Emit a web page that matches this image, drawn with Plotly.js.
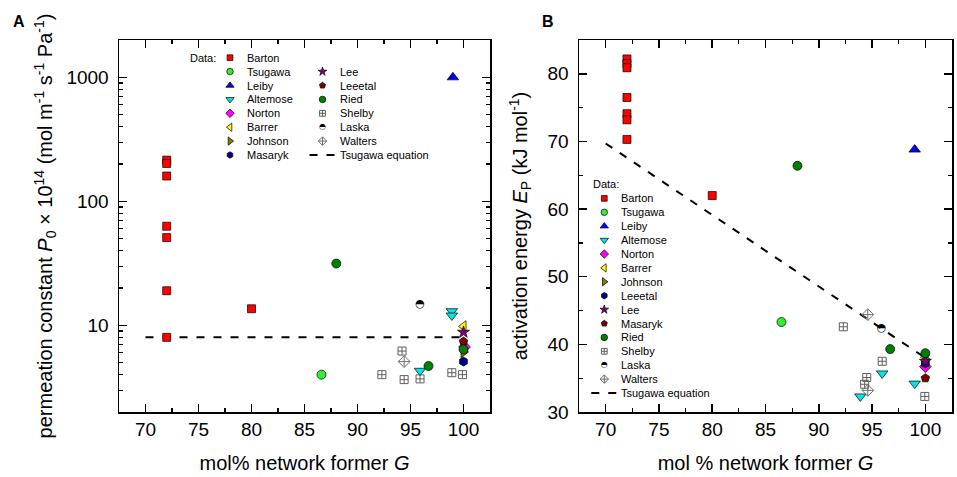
<!DOCTYPE html>
<html><head><meta charset="utf-8">
<script src="https://cdn.plot.ly/plotly-3.0.1.min.js"></script>
<style>html,body{margin:0;padding:0;background:#fff}</style>
</head><body><div id="chart" style="width:957px;height:477px"></div>
<script>
// ---------------- Panel A data: permeation constant P0 x 10^14 (log scale) ----------------
const A_barton_x   = [72, 72, 72, 72, 72, 72, 72, 80];
const A_barton_y   = [215, 202, 160, 63, 51, 19, 8, 13.6];
const A_tsugawa_x  = [86.6];            const A_tsugawa_y  = [4.0];
const A_leiby_x    = [99];              const A_leiby_y    = [1000];
const A_altemose_x = [98.9, 98.9, 95.9]; const A_altemose_y = [13, 12, 4.3];
const A_norton_x   = [100.1];           const A_norton_y   = [6.7];
const A_barrer_x   = [100];             const A_barrer_y   = [9.8];
const A_johnson_x  = [100];             const A_johnson_y  = [6.1];
const A_masaryk_x  = [100];             const A_masaryk_y  = [5.1];
const A_lee_x      = [100];             const A_lee_y      = [8.8];
const A_leeetal_x  = [100];             const A_leeetal_y  = [7.4];
const A_ried_x     = [88, 96.7, 100];   const A_ried_y     = [31.5, 4.7, 6.4];
const A_shelby_x   = [92.3, 94.2, 94.4, 95.9, 98.9, 99.9];
const A_shelby_y   = [4.0, 6.2, 3.65, 3.7, 4.15, 4.0];
const A_laska_x    = [95.9];            const A_laska_y    = [14.7];
const A_walters_x  = [94.4];            const A_walters_y  = [5.1];
const A_eq_x       = [70, 100];         const A_eq_y       = [8, 8];

// ---------------- Panel B data: activation energy Ep (kJ/mol) ----------------
const B_barton_x   = [72, 72, 72, 72, 72, 72, 72, 80];
const B_barton_y   = [82.2, 81.5, 80.9, 76.5, 74.1, 73.2, 70.3, 62.0];
const B_tsugawa_x  = [86.5];            const B_tsugawa_y  = [43.3];
const B_leiby_x    = [99];              const B_leiby_y    = [68.8];
const B_altemose_x = [93.9, 95.95, 99]; const B_altemose_y = [32.3, 35.7, 34.2];
const B_norton_x   = [100];             const B_norton_y   = [36.7];
const B_barrer_x   = [100];             const B_barrer_y   = [38.1];
const B_johnson_x  = [100];             const B_johnson_y  = [37.8];
const B_leeetal_x  = [100];             const B_leeetal_y  = [37.2];
const B_lee_x      = [100];             const B_lee_y      = [37.5];
const B_masaryk_x  = [100];             const B_masaryk_y  = [35.0];
const B_ried_x     = [88, 96.7, 100];   const B_ried_y     = [66.4, 39.3, 38.7];
const B_shelby_x   = [92.3, 94.3, 94.5, 95.95, 99.95];
const B_shelby_y   = [42.6, 34.1, 35.1, 37.5, 32.3];
const B_laska_x    = [95.9];            const B_laska_y    = [42.4];
const B_walters_x  = [94.6, 94.6];      const B_walters_y  = [44.4, 33.2];
const B_eq_x       = [70, 100];         const B_eq_y       = [69.7, 38.0];

// ---------------- tick labels ----------------
const xTickVals = [70, 75, 80, 85, 90, 95, 100];
const yTickValsA = [10, 100, 1000];
const yTickTextA = ['10', '100', '1000'];
const yTickValsB = [30, 40, 50, 60, 70, 80];

// ---------------- styles ----------------
const STY = {
  red:     {symbol: 'square',            color: '#ff0000', size: 8},
  lime:    {symbol: 'circle',            color: '#33ee33', size: 9},
  blue:    {symbol: 'triangle-up',       color: '#0000ff', size: 10},
  cyan:    {symbol: 'triangle-down',     color: '#00e5e5', size: 10},
  magenta: {symbol: 'diamond',           color: '#ff00ff', size: 9},
  yellow:  {symbol: 'triangle-left',     color: '#ffff00', size: 10},
  olive:   {symbol: 'triangle-right',    color: '#808000', size: 10},
  navy:    {symbol: 'hexagon',           color: '#000080', size: 9},
  purple:  {symbol: 'star',              color: '#800080', size: 9},
  darkred: {symbol: 'pentagon',          color: '#800000', size: 9},
  green:   {symbol: 'circle',            color: '#008000', size: 9},
  gray:    {symbol: 'square-cross-open', color: '#606060', size: 8, open: true},
  half:    {glyph: '\u25D3', size: 11},
  walters: {symbol: 'diamond-cross-open',color: '#707070', size: 9, open: true},
  dash:    {line: true}
};

const seriesA = [
  {name: 'Barton',   x: A_barton_x,   y: A_barton_y,   s: 'red'},
  {name: 'Tsugawa',  x: A_tsugawa_x,  y: A_tsugawa_y,  s: 'lime'},
  {name: 'Leiby',    x: A_leiby_x,    y: A_leiby_y,    s: 'blue'},
  {name: 'Altemose', x: A_altemose_x, y: A_altemose_y, s: 'cyan'},
  {name: 'Norton',   x: A_norton_x,   y: A_norton_y,   s: 'magenta'},
  {name: 'Barrer',   x: A_barrer_x,   y: A_barrer_y,   s: 'yellow'},
  {name: 'Johnson',  x: A_johnson_x,  y: A_johnson_y,  s: 'olive'},
  {name: 'Masaryk',  x: A_masaryk_x,  y: A_masaryk_y,  s: 'navy'},
  {name: 'Lee',      x: A_lee_x,      y: A_lee_y,      s: 'purple'},
  {name: 'Leeetal',  x: A_leeetal_x,  y: A_leeetal_y,  s: 'darkred'},
  {name: 'Ried',     x: A_ried_x,     y: A_ried_y,     s: 'green'},
  {name: 'Shelby',   x: A_shelby_x,   y: A_shelby_y,   s: 'gray'},
  {name: 'Laska',    x: A_laska_x,    y: A_laska_y,    s: 'half'},
  {name: 'Walters',  x: A_walters_x,  y: A_walters_y,  s: 'walters'},
  {name: 'Tsugawa equation', x: A_eq_x, y: A_eq_y,     s: 'dash'}
];
const seriesB = [
  {name: 'Barton',   x: B_barton_x,   y: B_barton_y,   s: 'red'},
  {name: 'Tsugawa',  x: B_tsugawa_x,  y: B_tsugawa_y,  s: 'lime'},
  {name: 'Leiby',    x: B_leiby_x,    y: B_leiby_y,    s: 'blue'},
  {name: 'Altemose', x: B_altemose_x, y: B_altemose_y, s: 'cyan'},
  {name: 'Norton',   x: B_norton_x,   y: B_norton_y,   s: 'magenta'},
  {name: 'Barrer',   x: B_barrer_x,   y: B_barrer_y,   s: 'yellow'},
  {name: 'Johnson',  x: B_johnson_x,  y: B_johnson_y,  s: 'olive'},
  {name: 'Leeetal',  x: B_leeetal_x,  y: B_leeetal_y,  s: 'navy'},
  {name: 'Lee',      x: B_lee_x,      y: B_lee_y,      s: 'purple'},
  {name: 'Masaryk',  x: B_masaryk_x,  y: B_masaryk_y,  s: 'darkred'},
  {name: 'Ried',     x: B_ried_x,     y: B_ried_y,     s: 'green'},
  {name: 'Shelby',   x: B_shelby_x,   y: B_shelby_y,   s: 'gray'},
  {name: 'Laska',    x: B_laska_x,    y: B_laska_y,    s: 'half'},
  {name: 'Walters',  x: B_walters_x,  y: B_walters_y,  s: 'walters'},
  {name: 'Tsugawa equation', x: B_eq_x, y: B_eq_y,     s: 'dash'}
];

const DASH = {color: '#000', width: 2, dash: '8px,9px'};

function makeTrace(x, y, st, xa, ya, scale) {
  scale = scale || 1;
  const base = {x: x, y: y, xaxis: xa, yaxis: ya, showlegend: false, hoverinfo: 'skip', cliponaxis: false};
  if (st.line) return Object.assign(base, {mode: 'lines', line: DASH});
  if (st.glyph) return Object.assign(base, {mode: 'text', text: x.map(() => st.glyph),
      textposition: 'middle center', textfont: {family: 'DejaVu Sans', size: st.size * scale, color: '#000'}});
  const m = {symbol: st.symbol, size: st.size * scale, color: st.color,
             line: {color: st.open ? st.color : '#000', width: st.open ? 1 : 0.7}};
  return Object.assign(base, {mode: 'markers', marker: m});
}

const traces = [];
// Tsugawa equation lines first (drawn underneath)
seriesA.filter(s => s.s === 'dash').forEach(s => traces.push(makeTrace(s.x, s.y, STY[s.s], 'x', 'y')));
seriesB.filter(s => s.s === 'dash').forEach(s => traces.push(makeTrace(s.x, s.y, STY[s.s], 'x2', 'y2')));
seriesA.filter(s => s.s !== 'dash').forEach(s => traces.push(makeTrace(s.x, s.y, STY[s.s], 'x', 'y')));
seriesB.filter(s => s.s !== 'dash').forEach(s => traces.push(makeTrace(s.x, s.y, STY[s.s], 'x2', 'y2')));

// ---------------- custom legends (drawn in pixel-scaled overlay axes) ----------------
const annotations = [];
const LEG_FONT = {size: 11, color: '#000'};
function legendEntry(s, mx, lx, ry, xa, ya) {
  const st = STY[s.s];
  if (st.line) traces.push(makeTrace([mx - 13, mx + 13], [ry, ry], st, xa, ya));
  else traces.push(makeTrace([mx], [ry], st, xa, ya, 0.72));
  annotations.push({xref: xa, yref: ya, x: lx, y: ry, text: s.name, showarrow: false,
                    xanchor: 'left', yanchor: 'middle', font: LEG_FONT, borderpad: 0});
}
// Panel A legend: two columns
const legA = {col1Marker: 111, col1Label: 126.5, col2Marker: 203.5, col2Label: 219.5, row0: 17.7, step: 13.9, col1Rows: 8};
seriesA.forEach((s, i) => {
  let mx, lx, row;
  if (i < legA.col1Rows) { mx = legA.col1Marker; lx = legA.col1Label; row = i; }
  else { mx = legA.col2Marker; lx = legA.col2Label; row = i - legA.col1Rows + 1; }
  legendEntry(s, mx, lx, legA.row0 + row * legA.step, 'x3', 'y3');
});
annotations.push({xref: 'x3', yref: 'y3', x: 98, y: legA.row0, text: 'Data:', showarrow: false,
                  xanchor: 'right', yanchor: 'middle', font: LEG_FONT, borderpad: 0});
// Panel B legend: one column
const legB = {marker: 25.3, label: 41, row0: 158.4, step: 13.9, title: 144};
seriesB.forEach((s, i) => legendEntry(s, legB.marker, legB.label, legB.row0 + i * legB.step, 'x4', 'y4'));
annotations.push({xref: 'x4', yref: 'y4', x: 13, y: legB.title, text: 'Data:', showarrow: false,
                  xanchor: 'left', yanchor: 'middle', font: LEG_FONT, borderpad: 0});

// ---------------- layout ----------------
const W = 957, H = 477, ML = 119, MR = 5, MT = 40, MB = 65;
const PW = W - ML - MR, PH = H - MT - MB;
const domA = [0, 371 / PW], domB = [460 / PW, 1];
const px2x = p => (p - ML) / PW, px2y = p => (H - MB - p) / PH;

// panel letters
annotations.push({xref: 'paper', yref: 'paper', x: px2x(18.5), y: px2y(21), text: '<b>A</b>', showarrow: false,
                  xanchor: 'center', yanchor: 'middle', font: {size: 16, color: '#000'}});
annotations.push({xref: 'paper', yref: 'paper', x: px2x(547.5), y: px2y(21), text: '<b>B</b>', showarrow: false,
                  xanchor: 'center', yanchor: 'middle', font: {size: 16, color: '#000'}});

function ax(extra) {
  return Object.assign({
    showline: true, linecolor: '#000', linewidth: 1.5, mirror: 'allticks',
    ticks: 'inside', ticklen: 8, tickwidth: 1.5, tickcolor: '#000',
    showgrid: false, zeroline: false, tickfont: {size: 19, color: '#000'},
    ticklabelstandoff: 5, fixedrange: true
  }, extra);
}
const minorLin = d => ({ticks: 'inside', ticklen: 4, tickwidth: 1.2, tickcolor: '#000', showgrid: false, dtick: d});
const TITLE_FONT = {size: 20, color: '#000'};

const layout = {
  width: W, height: H,
  margin: {l: ML, r: MR, t: MT, b: MB, pad: 0},
  paper_bgcolor: '#fff', plot_bgcolor: 'rgba(0,0,0,0)',
  font: {family: 'Liberation Sans, Arial, sans-serif', color: '#000'},
  showlegend: false, hovermode: false,
  xaxis: ax({domain: domA, range: [67.5, 102.5], anchor: 'y', tickmode: 'array', tickvals: xTickVals,
             minor: minorLin(2.5), ticklabelstandoff: 0,
             title: {text: 'mol% network former <i>G</i>', font: TITLE_FONT, standoff: 16}}),
  yaxis: ax({domain: [0, 1], type: 'log', range: [Math.log10(2), Math.log10(2000)], anchor: 'x',
             tickmode: 'array', tickvals: yTickValsA, ticktext: yTickTextA,
             minor: {ticks: 'inside', ticklen: 4, tickwidth: 1.2, tickcolor: '#000', showgrid: false, dtick: 'D1'},
             title: {text: 'permeation constant <i>P</i><sub>0</sub> × 10<sup>14</sup> (mol m<sup>-1</sup> s<sup>-1</sup> Pa<sup>-1</sup>)',
                     font: TITLE_FONT, standoff: 8}}),
  xaxis2: ax({domain: domB, range: [67.5, 102.5], anchor: 'y2', tickmode: 'array', tickvals: xTickVals,
              minor: minorLin(2.5), ticklabelstandoff: 0,
              title: {text: 'mol % network former <i>G</i>', font: TITLE_FONT, standoff: 16}}),
  yaxis2: ax({domain: [0, 1], range: [30, 85], anchor: 'x2', tickmode: 'array', tickvals: yTickValsB,
              minor: minorLin(5),
              title: {text: 'activation energy <i>E</i><sub>P</sub> (kJ mol<sup>-1</sup>)', font: TITLE_FONT, standoff: 14}}),
  xaxis3: {overlaying: 'x', anchor: 'y3', range: [0, 371], visible: false, fixedrange: true},
  yaxis3: {overlaying: 'y', anchor: 'x3', range: [PH, 0], visible: false, fixedrange: true},
  xaxis4: {overlaying: 'x2', anchor: 'y4', range: [0, PW - 460], visible: false, fixedrange: true},
  yaxis4: {overlaying: 'y2', anchor: 'x4', range: [PH, 0], visible: false, fixedrange: true},
  annotations: annotations
};

Plotly.newPlot('chart', traces, layout, {staticPlot: true, displayModeBar: false});
</script>
</body></html>
